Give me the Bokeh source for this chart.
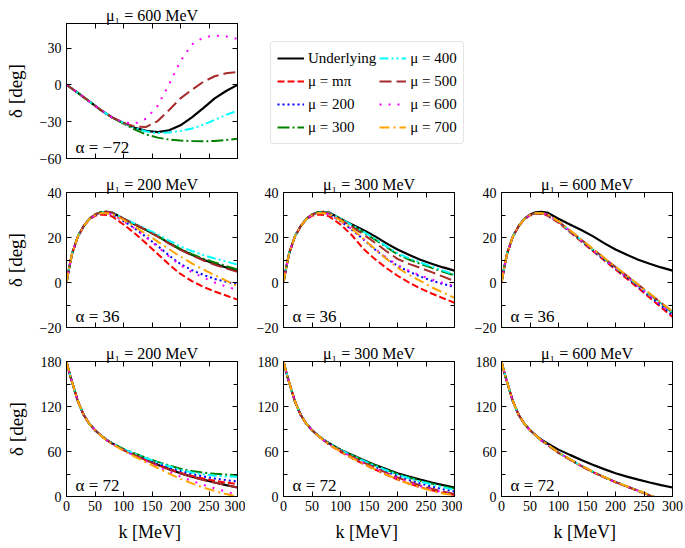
from bokeh.plotting import figure
from bokeh.models import Range1d, LinearAxis, FixedTicker, Label, Legend, LegendItem
from bokeh.layouts import row, column
from bokeh.embed import file_html
from bokeh.resources import INLINE

FONT = "Liberation Serif"
TFONT = "Liberation Serif"

# momentum grid (MeV)
K = [0, 5, 10, 20, 30, 40, 50, 60, 70, 80, 100, 120, 140, 160, 180, 200, 220, 240, 260, 280, 300]

SERIES = ["under", "mpi", "m200", "m300", "m400", "m500", "m600", "m700"]
LABELS = ["Underlying", "μ = mπ", "μ = 200", "μ = 300", "μ = 400", "μ = 500", "μ = 600", "μ = 700"]
COLORS = ["black", "#ff0000", "#0000ff", "#008000", "#00ffff", "#a52a2a", "#ff00ff", "#ffa500"]
DASHES = ["solid", "7 3", "2 3", "12 3 2 3", "9 3 2 3 2 3", "12 5", "2 7", "10 4 2 4"]

# ---------- alpha = -72, mu1 = 600 ----------
TL_under = [0, -1.6, -3.2, -6.5, -10, -13.5, -17, -20.5, -23.5, -26.5, -31, -35, -37.5, -38.5, -37, -33, -26.5, -19, -11, -5, 0]
TL_300 = [0, -1.6, -3.2, -6.5, -10, -13.5, -17, -20.5, -23.5, -26.5, -31.5, -36.5, -40.5, -43, -44.6, -45.4, -45.8, -46, -45.7, -45, -44]
TL_400 = [0, -1.6, -3.2, -6.5, -10, -13.5, -17, -20.5, -23.5, -26.5, -31, -35, -38, -39.3, -38.8, -37.5, -35.5, -32.5, -28.5, -24.5, -21]
TL_500 = [0, -1.6, -3.2, -6.5, -10, -13.5, -17, -20.5, -23.5, -26.5, -31, -34, -34.3, -29.5, -20.5, -11, -4, 2.5, 7, 9.5, 10.5]
TL_600 = [0, -1.6, -3.2, -6.5, -10, -13.5, -17, -20.5, -23.5, -26.5, -30.5, -31.5, -27.5, -17, 0.5, 19.5, 33, 38.7, 40.2, 39.5, 37.5]

# ---------- alpha = 36 ----------
U36 = [0, 7, 13, 20.5, 25, 28.3, 30.2, 31.2, 31.4, 31.1, 28.3, 25.8, 23.3, 20.6, 17.5, 14.7, 12.3, 10.1, 8.3, 6.7, 5.3]
# mu1 = 200
M1_mpi = [0, 7, 13, 20.5, 25, 28, 29.6, 30.2, 30, 29.4, 25.8, 21.8, 17.3, 12.7, 8, 3.8, 0.6, -1.9, -4, -5.8, -7.6]
M1_200 = [0, 7, 13, 20.5, 25, 28.2, 30, 30.8, 30.8, 30.3, 27.3, 24, 20.2, 16.3, 12, 8.2, 5.5, 3.4, 1.6, 0.3, -0.9]
M1_300 = [0, 7, 13, 20.5, 25, 28.3, 30.2, 31.2, 31.4, 31.1, 28.3, 25.8, 23.3, 20.6, 17.6, 14.9, 12.6, 10.6, 8.9, 7.3, 5.8]
M1_400 = [0, 7, 13, 20.5, 25, 28.3, 30.2, 31.2, 31.4, 31.1, 28.5, 26.2, 23.8, 21.3, 18.6, 16, 14, 12.2, 10.7, 9.3, 8]
M1_500 = [0, 7, 13, 20.5, 25, 28.3, 30.2, 31.2, 31.4, 31.1, 28.4, 25.9, 23.2, 20.4, 17.3, 14.5, 12, 9.8, 7.9, 6.2, 4.8]
M1_600 = [0, 7, 13, 20.5, 25, 28.2, 30, 30.8, 30.8, 30.3, 27.3, 24, 20, 15.9, 11.6, 7.6, 4.6, 2.2, 0, -1.8, -3.3]
M1_700 = [0, 7, 13, 20.5, 25, 28.2, 30, 30.8, 30.8, 30.4, 27.8, 24.8, 21.5, 18.2, 14.8, 11.5, 8.5, 5.8, 3.3, 0.8, -1.6]
# mu1 = 300
M2_mpi = [0, 7, 13, 20.5, 25, 28, 29.6, 30.2, 30, 29.4, 25.8, 21, 15, 10.5, 6.5, 3, 0, -2.6, -4.9, -7, -9]
M2_200 = [0, 7, 13, 20.5, 25, 28.2, 30, 30.8, 30.8, 30.3, 27.3, 23.5, 19.2, 14.8, 10.8, 7.4, 4.8, 2.7, 0.8, -0.7, -2]
M2_300 = [0, 7, 13, 20.5, 25, 28.3, 30.2, 31.1, 31.2, 30.8, 28.3, 25.3, 22.3, 19.2, 15.8, 12.5, 10.2, 8.3, 6.5, 4.8, 3.2]
M2_400 = [0, 7, 13, 20.5, 25, 28.3, 30.2, 31.1, 31.2, 30.9, 28.5, 25.5, 22.6, 19.6, 16.2, 13, 10.8, 8.9, 7.1, 5.3, 3.6]
M2_500 = [0, 7, 13, 20.5, 25, 28.3, 30.2, 31.1, 31.2, 30.7, 28, 24.8, 21.4, 17.8, 14, 10.5, 8.3, 6.5, 4.6, 2.6, 0.6]
M2_600 = [0, 7, 13, 20.5, 25, 28.2, 30, 30.8, 30.8, 30.3, 27.3, 23.6, 19.4, 15.1, 11.2, 7.8, 5.3, 3.2, 1.3, -0.2, -1.5]
M2_700 = [0, 7, 13, 20.5, 25, 28.2, 30, 30.8, 30.8, 30.4, 27.6, 23.9, 19.5, 15, 10.6, 6.6, 3.4, 0.7, -2.1, -4.5, -6.8]
# mu1 = 600
M3_mpi = [0, 7, 13, 20.5, 25, 28.1, 29.8, 30.5, 30.4, 29.8, 26.6, 22.5, 18.2, 14, 9.9, 5.8, 1.7, -2.5, -6.8, -11, -15.3]
M3_200 = [0, 7, 13, 20.5, 25, 28.2, 30, 30.8, 30.8, 30.2, 26.8, 22.7, 18.5, 14.3, 10.2, 6.2, 2.2, -1.9, -6.1, -10.3, -14.5]
M3_300 = [0, 7, 13, 20.5, 25, 28.2, 30, 30.8, 30.8, 30.3, 27, 23, 18.8, 14.7, 10.7, 6.7, 2.7, -1.3, -5.4, -9.4, -13.5]
M3_400 = [0, 7, 13, 20.5, 25, 28.2, 30, 30.8, 30.8, 30.3, 27, 23, 18.8, 14.7, 10.7, 6.8, 2.8, -1.2, -5.3, -9.3, -13.3]
M3_500 = [0, 7, 13, 20.5, 25, 28.2, 30, 30.8, 30.8, 30.3, 27.1, 23.1, 19, 14.9, 10.9, 6.9, 3, -1, -5, -9, -13]
M3_600 = [0, 7, 13, 20.5, 25, 28.2, 30, 30.8, 30.8, 30.3, 26.9, 22.9, 18.7, 14.5, 10.5, 6.5, 2.4, -1.6, -5.8, -9.9, -14]
M3_700 = [0, 7, 13, 20.5, 25, 28.2, 30, 30.8, 30.8, 30.4, 27.2, 23.2, 19.1, 15, 11, 7, 3.1, -0.9, -4.9, -8.9, -12.9]

# ---------- alpha = 72 ----------
U72 = [180, 165, 152, 127, 109, 97, 88.5, 81.5, 75.7, 71, 62.5, 55.5, 48.7, 42.3, 36.5, 31, 26.5, 22.5, 18.7, 15.2, 12]
# mu1 = 200
B1_mpi = [180, 165, 152, 127, 109, 97, 88.5, 81.5, 75.5, 70.6, 62, 55, 48.3, 42, 36.5, 31.5, 27.4, 24, 21, 18.5, 16.4]
B1_200 = [180, 165, 152, 127, 109, 97, 88.5, 81.5, 75.6, 70.9, 62.8, 56.3, 50, 44.2, 38.8, 34, 30, 26.8, 24, 21.8, 20]
B1_300 = [180, 165, 152, 127, 109, 97, 88.5, 81.5, 75.8, 71.2, 63.5, 57.3, 51.5, 46.2, 41.3, 37, 34, 31.8, 30.2, 29.2, 28.5]
B1_400 = [180, 165, 152, 127, 109, 97, 88.5, 81.5, 75.8, 71.2, 63.3, 57, 51, 45.5, 40.3, 35.5, 32, 29.5, 27.8, 26.8, 26.3]
B1_500 = [180, 165, 152, 127, 109, 97, 88.5, 81.5, 75.5, 70.6, 62, 55, 48.3, 41.8, 36, 30.6, 26, 22, 18.5, 15.2, 12]
B1_600 = [180, 165, 152, 127, 109, 97, 88.5, 81.3, 75.3, 70.3, 61.5, 54, 46.8, 39.8, 33, 26.5, 20.8, 15.5, 10.8, 6.5, 2.5]
B1_700 = [180, 165, 152, 127, 109, 97, 88.5, 81.2, 75.1, 70, 61, 53, 45.5, 38, 30.5, 23.5, 17.5, 12, 7.3, 3.2, 0]
# mu1 = 300
B2_mpi = [180, 165, 152, 127, 109, 97, 88.5, 81.3, 75.2, 69, 59.5, 51.2, 43.5, 36.2, 29.2, 22.7, 17.2, 12.3, 8.2, 4.8, 2]
B2_200 = [180, 165, 152, 127, 109, 97, 88.5, 81.4, 75.5, 70.5, 61.5, 54, 46.8, 40, 33.5, 27.3, 22, 17.3, 13.2, 9.8, 6.7]
B2_300 = [180, 165, 152, 127, 109, 97, 88.5, 81.5, 75.7, 71, 62.3, 55.2, 48.3, 41.8, 35.8, 30.2, 25.4, 21.1, 17.2, 13.7, 10.5]
B2_400 = [180, 165, 152, 127, 109, 97, 88.5, 81.5, 75.6, 70.7, 62, 54.8, 47.8, 41.2, 35, 29.3, 24.4, 20, 16, 12.3, 9]
B2_500 = [180, 165, 152, 127, 109, 97, 88.5, 81.4, 75.4, 70, 61, 53, 45.5, 38.5, 31.8, 25.3, 19.8, 14.8, 10.5, 6.8, 3.5]
B2_600 = [180, 165, 152, 127, 109, 97, 88.5, 81.4, 75.3, 69.8, 60.7, 52.6, 45, 37.8, 30.8, 24.3, 18.8, 13.8, 9.4, 5.6, 2.3]
B2_700 = [180, 165, 152, 127, 109, 97, 88.5, 81.3, 75.2, 69.3, 60, 51.6, 43.8, 36.4, 29.3, 22.7, 17, 12, 7.6, 4, 1.5]
# mu1 = 600
B3_mpi = [180, 165, 152, 127, 109, 97, 88.5, 81.3, 74.6, 69, 58, 49, 40.5, 32.5, 25.5, 19, 13, 7.3, 1, -4, -9]
B3_200 = [180, 165, 152, 127, 109, 97, 88.5, 81.4, 74.8, 69.3, 58.3, 49.3, 40.8, 32.8, 25.8, 19.3, 13.3, 7.6, 1.3, -3.7, -8.5]
B3_300 = [180, 165, 152, 127, 109, 97, 88.5, 81.4, 74.8, 69.4, 58.5, 49.5, 41, 33, 26, 19.5, 13.5, 7.8, 1.5, -3.5, -8]
B3_400 = [180, 165, 152, 127, 109, 97, 88.5, 81.4, 74.8, 69.4, 58.5, 49.5, 41, 33, 26, 19.5, 13.5, 7.8, 1.6, -3.4, -8]
B3_500 = [180, 165, 152, 127, 109, 97, 88.5, 81.4, 74.8, 69.4, 58.4, 49.4, 40.9, 32.9, 25.9, 19.4, 13.4, 7.7, 1.4, -3.6, -8.2]
B3_600 = [180, 165, 152, 127, 109, 97, 88.5, 81.4, 74.8, 69.3, 58.4, 49.4, 40.9, 32.9, 25.9, 19.4, 13.4, 7.7, 1.4, -3.6, -8.2]
B3_700 = [180, 165, 152, 127, 109, 97, 88.5, 81.5, 75, 69.6, 58.7, 49.7, 41.2, 33.2, 26.2, 19.7, 13.7, 8, 1.8, -3.2, -7.6]

TITLES = ["μ₁ = 600 MeV", "μ₁ = 200 MeV", "μ₁ = 300 MeV", "μ₁ = 600 MeV"]
ALPHAS = ["α = −72", "α = 36", "α = 72"]
XTICKS = [0, 50, 100, 150, 200, 250, 300]

PANELS = [
    dict(title=TITLES[0], alpha=ALPHAS[0], yr=(-60, 50), yt=[-60, -30, 0, 30], ym=[],
         data=[TL_under, None, None, TL_300, TL_400, TL_500, TL_600, None]),
    dict(title=TITLES[1], alpha=ALPHAS[1], yr=(-20, 40), yt=[-20, 0, 20, 40], ym=[-10, 10, 30],
         data=[U36, M1_mpi, M1_200, M1_300, M1_400, M1_500, M1_600, M1_700]),
    dict(title=TITLES[2], alpha=ALPHAS[1], yr=(-20, 40), yt=[-20, 0, 20, 40], ym=[-10, 10, 30],
         data=[U36, M2_mpi, M2_200, M2_300, M2_400, M2_500, M2_600, M2_700]),
    dict(title=TITLES[3], alpha=ALPHAS[1], yr=(-20, 40), yt=[-20, 0, 20, 40], ym=[-10, 10, 30],
         data=[U36, M3_mpi, M3_200, M3_300, M3_400, M3_500, M3_600, M3_700]),
    dict(title=TITLES[1], alpha=ALPHAS[2], yr=(0, 180), yt=[0, 60, 120, 180], ym=[30, 90, 150],
         data=[U72, B1_mpi, B1_200, B1_300, B1_400, B1_500, B1_600, B1_700]),
    dict(title=TITLES[2], alpha=ALPHAS[2], yr=(0, 180), yt=[0, 60, 120, 180], ym=[30, 90, 150],
         data=[U72, B2_mpi, B2_200, B2_300, B2_400, B2_500, B2_600, B2_700]),
    dict(title=TITLES[3], alpha=ALPHAS[2], yr=(0, 180), yt=[0, 60, 120, 180], ym=[30, 90, 150],
         data=[U72, B3_mpi, B3_200, B3_300, B3_400, B3_500, B3_600, B3_700]),
]


def fmt(v):
    return ("−%d" % abs(v)) if v < 0 else "%d" % v


def style_axis(ax, labels):
    ax.axis_line_color = "black"
    ax.axis_line_width = 1
    ax.major_tick_in = 5
    ax.major_tick_out = 0
    ax.minor_tick_in = 4
    ax.minor_tick_out = 0
    ax.major_tick_line_color = "black"
    ax.minor_tick_line_color = "black"
    ax.major_label_text_font = FONT
    if labels:
        ax.major_label_text_color = "black"
        ax.major_label_text_font_size = "14px"
        ax.major_label_standoff = 5
    else:
        # mirrored tick axis: no labels painted
        ax.major_label_text_color = None
        ax.major_label_text_font_size = "1px"
        ax.major_label_standoff = 0


FW, FH = 171, 135


def make_panel(cfg, bl, br, bt, bb, xlab, ylab):
    p = figure(frame_width=FW, frame_height=FH, x_range=Range1d(0, 300), y_range=Range1d(*cfg["yr"]),
               output_backend="svg", toolbar_location=None, x_axis_type=None, y_axis_type=None,
               min_border_left=bl, min_border_right=br, min_border_top=bt, min_border_bottom=bb,
               title=cfg["title"])
    p.title.text_font = TFONT
    p.title.text_font_size = "16px"
    p.title.text_font_style = "normal"
    p.title.text_color = "black"
    p.title.align = "center"
    p.title.standoff = 0
    p.outline_line_color = "black"
    p.background_fill_color = "white"
    p.border_fill_color = "white"

    yt = cfg["yt"]
    for side in ["left", "right"]:
        ax = LinearAxis(ticker=FixedTicker(ticks=yt, minor_ticks=cfg["ym"]))
        style_axis(ax, side == "left")
        if side == "left":
            ax.major_label_overrides = {t: fmt(t) for t in yt}
        if side == "left" and ylab:
            ax.axis_label = "δ [deg]"
            ax.axis_label_text_font = FONT
            ax.axis_label_text_font_size = "19px"
            ax.axis_label_text_font_style = "normal"
            ax.axis_label_text_color = "black"
            ax.axis_label_standoff = 11
        p.add_layout(ax, side)
    for side in ["below", "above"]:
        ax = LinearAxis(ticker=FixedTicker(ticks=XTICKS, minor_ticks=[]))
        style_axis(ax, side == "below" and xlab)
        if side == "below" and xlab:
            ax.major_label_standoff = 4
            ax.axis_label = "k  [MeV]"
            ax.axis_label_text_font = FONT
            ax.axis_label_text_font_size = "18px"
            ax.axis_label_text_font_style = "normal"
            ax.axis_label_text_color = "black"
            ax.axis_label_standoff = 8
        p.add_layout(ax, side)

    for i, ys in enumerate(cfg["data"]):
        if ys is None:
            continue
        p.line(K, ys, line_color=COLORS[i], line_dash=DASHES[i], line_width=2.2 if i == 0 else 2)

    y0, y1 = cfg["yr"]
    p.add_layout(Label(x=16, y=y0 + (y1 - y0) * 11.0 / 135.0, text=cfg["alpha"],
                       text_font=FONT, text_font_size="17px", text_color="black",
                       text_baseline="alphabetic"))
    return p


# layout geometry (pixels): (min_border_left, min_border_right) per column, (top, bottom) per row
COLB = [(66, 8), (38, 8), (39, 12)]
ROWB = [(23, 15), (19, 15), (19, 50)]

f_tl = make_panel(PANELS[0], COLB[0][0], COLB[0][1], ROWB[0][0], ROWB[0][1], False, True)

# legend holder figure (lines drawn outside its visible range, only the legend shows)
LW = 685 - (COLB[0][0] + FW + COLB[0][1])
LH = ROWB[0][0] + FH + ROWB[0][1]
lp = figure(width=LW, height=LH, x_range=Range1d(1000, 1001), y_range=Range1d(1000, 1001),
            output_backend="svg", toolbar_location=None, x_axis_type=None, y_axis_type=None,
            min_border_left=0, min_border_right=0, min_border_top=0, min_border_bottom=0)
lp.outline_line_color = None
items = []
for i in range(len(SERIES)):
    r = lp.line(K, PANELS[1]["data"][i], line_color=COLORS[i], line_dash=DASHES[i], line_width=2)
    items.append(LegendItem(label=LABELS[i], renderers=[r]))
leg = Legend(items=items, location=(25, 14), orientation="vertical", nrows=4)
leg.label_text_font = FONT
leg.label_text_font_size = "15px"
leg.label_text_color = "black"
leg.glyph_width = 27
leg.glyph_height = 20
leg.label_height = 20
leg.label_standoff = 4
leg.spacing = 3
leg.padding = 6
leg.margin = 0
leg.border_line_color = "#cccccc"
leg.border_line_width = 1
leg.background_fill_color = "white"
leg.background_fill_alpha = 1
try:
    leg.border_radius = 4
except Exception:
    pass
lp.add_layout(leg)

rows = [row(f_tl, lp)]
for r_i in (1, 2):
    bt, bb = ROWB[r_i]
    rr = []
    for c_i in range(3):
        bl, br = COLB[c_i]
        cfg = PANELS[1 + (r_i - 1) * 3 + c_i]
        rr.append(make_panel(cfg, bl, br, bt, bb, r_i == 2, c_i == 0))
    rows.append(row(*rr))

layout = column(*rows)
open("out.html", "w").write(file_html(layout, INLINE))
